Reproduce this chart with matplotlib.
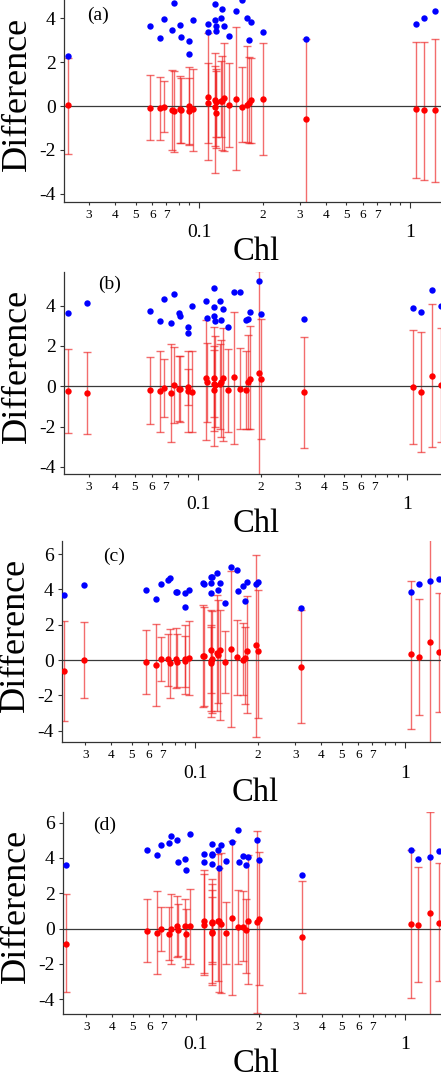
import numpy as np
import matplotlib
matplotlib.use('Agg')
import matplotlib.pyplot as plt
from matplotlib.ticker import FixedLocator, FixedFormatter, NullLocator

plt.rcParams['font.family'] = ['Liberation Serif', 'DejaVu Serif']
plt.rcParams['axes.unicode_minus'] = False

N = None
# Chl of each sample (shared by all panels)
chl = [0.0239, 0.0296, 0.0587, 0.0655, 0.0685, 0.0746, 0.0764, 0.0816, 0.0819,
       0.0893, 0.0896, 0.0937, 0.1097, 0.1100, 0.1192, 0.1195, 0.1198, 0.1201,
       0.1272, 0.1290, 0.1318, 0.139, 0.149, 0.159, 0.1605, 0.169, 0.173, 0.177,
       0.1955, 0.2003, 0.3205, 1.067, 1.16, 1.31, 1.455]

# Panel (a)
red_a = [0.05, N, -0.08, -0.10, -0.05, -0.18, -0.23, -0.15, -0.17, 0.00, -0.23, -0.15, 0.43, 0.12,
         0.27, -0.03, -0.33, 0.18, 0.23, 0.25, 0.38, 0.05, 0.32, -0.03, N, 0.03, 0.15, 0.29, N, 0.33,
         -0.60, -0.15, -0.20, -0.20, N]
lo_a = [-2.2, N, -1.57, -1.55, -1.2, -2.0, -2.08, -1.69, -1.7, -1.74, -1.8, -2.05, -2.47, -1.67,
        -3.04, -1.81, -1.9, -1.4, -1.43, -2.0, -2.04, -1.87, -2.9, -1.66, N, -1.63, -1.7, -1.7, N, -2.22,
        -4.6, -3.27, -3.38, -3.45, N]
hi_a = [2.2, N, 1.43, 1.31, 1.13, 1.63, 1.6, 1.35, 1.3, 1.8, 1.26, 1.7, 3.35, 1.96,
        2.4, 1.81, 1.7, 1.6, 2.05, 2.3, 2.86, 1.96, 3.6, 1.78, N, 2.74, 2.25, 2.2, N, 2.88,
        3.05, 2.93, 2.9, 3.05, N]
blue_a = [2.28, N, 3.65, 3.12, 3.99, 3.45, 4.7, 3.68, 3.15, 2.98, 2.39, 3.94, 3.73, 3.36,
          4.64, 3.91, 3.65, 3.42, 4.03, 4.41, 3.67, 3.18, 4.32, 4.85, N, 4.0, 3.01, 3.84, N, 3.36,
          3.08, 3.75, 4.02, 4.33, N]

# Panel (b)
red_b = [-0.26, -0.33, -0.18, -0.23, -0.07, -0.31, 0.07, -0.12, -0.12, -0.05, -0.23, -0.30, 0.40, 0.20,
         0.40, -0.18, 0.10, 0.05, 0.13, 0.21, 0.40, -0.18, 0.45, -0.12, N, -0.18, 0.23, 0.36, 0.68, 0.38,
         -0.30, -0.05, -0.28, 0.51, 0.07]
lo_b = [-2.33, -2.36, -1.85, -2.26, -1.5, -2.76, -1.8, -1.72, -1.75, -2.29, -0.94, -2.29, -2.66, -1.77,
        -2.95, -2.2, -1.5, -2.0, -2.1, -2.5, -2.7, -2.29, -2.84, -2.13, N, -2.1, -2.1, -2.1, -5.5, -2.59,
        -3.07, -2.87, -3.27, -2.99, -2.76]
hi_b = [1.83, 1.72, 1.47, 1.77, 1.37, 2.1, 1.96, 1.52, 1.48, 1.77, 0.87, 1.73, 3.3, 2.16,
        2.92, 2.0, 1.8, 2.5, 2.1, 2.3, 2.9, 1.86, 3.7, 1.91, N, 1.74, 2.52, 3.0, 5.7, 3.35,
        2.46, 2.79, 2.7, 4.06, 2.87]
blue_b = [3.63, 4.11, 3.75, 3.23, 4.31, 3.12, 4.59, 3.61, 3.5, 2.92, 2.62, 3.99, 4.21, 3.38,
          4.86, 3.93, 3.5, 3.25, 4.24, 3.28, 3.81, 2.94, 4.67, 4.69, N, 3.27, 3.32, 3.66, 5.23, 3.6,
          3.35, 3.88, 3.68, 4.75, 3.98]

# Panel (c)
red_c = [-0.62, 0.0, -0.09, -0.28, 0.06, 0.06, -0.15, 0.08, -0.09, -0.04, 0.06, 0.13, 0.26, 0.22,
         0.56, -0.04, -0.19, 0.09, 0.38, 0.28, 0.58, -0.11, 0.60, 0.15, N, 0.0, 0.13, 0.53, 0.83, 0.51,
         -0.40, 0.32, 0.19, 1.05, 0.43]
lo_c = [-3.43, -2.17, -1.9, -2.6, -1.19, -1.47, -2.15, -1.6, -1.55, -1.92, -1.5, -1.98, -2.67, -2.6,
        -3.2, -2.9, -1.85, -3.0, -2.9, -2.45, -3.4, -1.88, -3.8, -2.0, N, -1.96, -2.5, -3.0, -4.33, -3.3,
        -3.58, -3.9, -3.1, -4.8, -2.92]
hi_c = [2.2, 2.13, 1.69, 2.07, 1.28, 1.5, 1.77, 1.81, 1.45, 1.96, 1.35, 2.24, 3.14, 3.0,
        2.82, 2.0, 1.85, 2.8, 3.7, 3.4, 2.82, 1.66, 5.05, 2.26, N, 2.1, 1.9, 3.6, 5.97, 3.95,
        2.82, 4.48, 3.47, 7.0, 3.8]
blue_c = [3.71, 4.26, 3.95, 3.43, 4.31, 4.52, 4.63, 3.86, 3.88, 3.01, 3.82, 3.99, 4.35, 4.33,
          4.71, 4.35, 3.82, 4.71, 4.9, 3.99, 4.37, 3.24, 5.24, 5.12, 3.92, 4.22, 3.33, 4.43, 4.31, 4.43,
          2.96, 3.88, 4.31, 4.48, 4.58]

# Panel (d)
red_d = [-0.85, N, -0.13, -0.24, -0.02, -0.28, -0.02, 0.13, -0.09, 0.15, -0.30, 0.15, 0.41, 0.23,
         0.38, -0.17, -0.24, 0.30, 0.41, 0.41, 0.26, -0.24, 0.60, 0.11, N, 0.09, -0.09, 0.41, 0.38, 0.55,
         -0.49, 0.24, 0.21, 0.87, 0.34]
lo_d = [-3.62, N, -1.92, -2.56, -1.26, -1.79, -2.0, -1.6, -1.55, -2.2, -1.7, -1.98, -2.54, -2.65,
        -3.2, -3.1, -2.0, -1.9, -2.95, -3.6, -3.65, -1.98, -3.79, -2.03, N, -1.85, -2.5, -3.14, -4.8, -3.2,
        -3.67, -3.92, -3.05, -5.0, -2.98]
hi_d = [1.98, N, 1.68, 2.11, 1.2, 1.22, 1.98, 1.86, 1.4, 1.65, 1.1, 2.22, 3.33, 3.1,
        2.82, 2.5, 1.8, 2.2, 4.2, 3.45, 4.3, 1.49, 4.95, 2.2, N, 2.1, 1.7, 4.14, 5.52, 4.35,
        2.67, 4.43, 3.48, 6.6, 3.71]
blue_d = [3.62, N, 4.43, 4.14, 4.75, 4.86, 5.27, 4.99, 3.75, 3.92, 3.31, 5.37, 4.22, 3.75,
          4.8, 4.2, 4.14, 3.63, 4.43, 3.45, 4.75, 3.84, 4.9, 5.61, 3.77, 4.12, 3.62, 4.05, 5.03, 3.86,
          3.05, 4.44, 3.94, 4.05, 4.41]

panel_labels = ['(a)', '(b)', '(c)', '(d)']
y_ticks = [[-4, -2, 0, 2, 4], [-4, -2, 0, 2, 4], [-4, -2, 0, 2, 4, 6], [-4, -2, 0, 2, 4, 6]]
major_x = [0.1, 1]
major_x_labels = ['0.1', '1']
minor_digits = [2, 3, 4, 5, 6, 7, 8, 9]
minor_labeled = [2, 3, 4, 5, 6, 7]

panels = [
    (red_a, lo_a, hi_a, blue_a),
    (red_b, lo_b, hi_b, blue_b),
    (red_c, lo_c, hi_c, blue_c),
    (red_d, lo_d, hi_d, blue_d),
]
ylims = [(-4.38, 4.84), (-4.35, 5.66), (-4.65, 6.74), (-4.84, 6.6)]
xlims = [(0.0229, 1.403), (0.0229, 1.449), (0.02326, 1.484), (0.02323, 1.486)]
rects = [(0.1451, 0.8130, 0.8549, 0.1870),
         (0.1451, 0.5611, 0.8549, 0.1870),
         (0.1406, 0.3127, 0.8594, 0.1864),
         (0.1429, 0.0611, 0.8571, 0.1870)]
# panel-letter offsets from the axes' top-left corner, in pixels
label_off = [(23, 15), (34, 12), (41, 15), (30, 13)]

fig = plt.figure(figsize=(4.41, 10.8), dpi=100)
x = np.array(chl, dtype=float)
axcol = '#333333'
px2pt = 0.72

for i, (red, lo, hi, blue) in enumerate(panels):
    ax = fig.add_axes(rects[i])
    r = np.array(red, dtype=float)
    l = np.array(lo, dtype=float)
    h = np.array(hi, dtype=float)
    b = np.array(blue, dtype=float)
    ok = ~np.isnan(r)
    ax.errorbar(x[ok], r[ok], yerr=[r[ok] - l[ok], h[ok] - r[ok]], fmt='none',
                ecolor=(0.93, 0.12, 0.12), alpha=0.65, elinewidth=1.0, capsize=2.6,
                capthick=1.0, zorder=1)
    ax.axhline(0, color='#3a3a3a', lw=0.9, zorder=2)
    ax.plot(x[ok], r[ok], 'o', color='#ff0000', ms=4.6, mew=0, zorder=3)
    okb = ~np.isnan(b)
    ax.plot(x[okb], b[okb], 'o', color='#0000ff', ms=4.6, mew=0, zorder=3)

    ax.set_xscale('log')
    ax.set_xlim(*xlims[i])
    ax.set_ylim(*ylims[i])
    ax.xaxis.set_major_locator(FixedLocator(major_x))
    ax.xaxis.set_major_formatter(FixedFormatter(major_x_labels))
    mpos, mlab = [], []
    for dec in [0.01, 0.1, 1.0]:
        for k in minor_digits:
            mpos.append(k * dec)
            mlab.append(str(k) if k in minor_labeled else '')
    ax.xaxis.set_minor_locator(FixedLocator(mpos))
    ax.xaxis.set_minor_formatter(FixedFormatter(mlab))
    ax.set_yticks(y_ticks[i])
    ax.yaxis.set_minor_locator(NullLocator())

    for s in ['top', 'right']:
        ax.spines[s].set_visible(False)
    for s in ['left', 'bottom']:
        ax.spines[s].set_color(axcol)
        ax.spines[s].set_linewidth(0.9)
    ax.tick_params(axis='x', which='major', length=4, width=0.8, pad=12,
                   labelsize=14, color=axcol)
    ax.tick_params(axis='x', which='minor', length=2.5, width=0.8, pad=2.5,
                   labelsize=9.5, color=axcol)
    ax.tick_params(axis='y', which='major', length=3, width=0.8, pad=3,
                   labelsize=14, color=axcol)

    ax.annotate('Difference', xy=(0, 0.5), xycoords='axes fraction',
                xytext=(-33.5, 5), textcoords='offset points', rotation=90,
                ha='center', va='center', fontsize=26)
    ax.annotate('Chl', xy=(0.51, 0), xycoords='axes fraction',
                xytext=(0, -36), textcoords='offset points',
                ha='center', va='center', fontsize=23.5)
    dx, dy = label_off[i]
    ax.annotate(panel_labels[i], xy=(0, 1), xycoords='axes fraction',
                xytext=(dx * px2pt, -dy * px2pt), textcoords='offset points',
                ha='left', va='center', fontsize=14)

fig.savefig('out.png', dpi=100)
